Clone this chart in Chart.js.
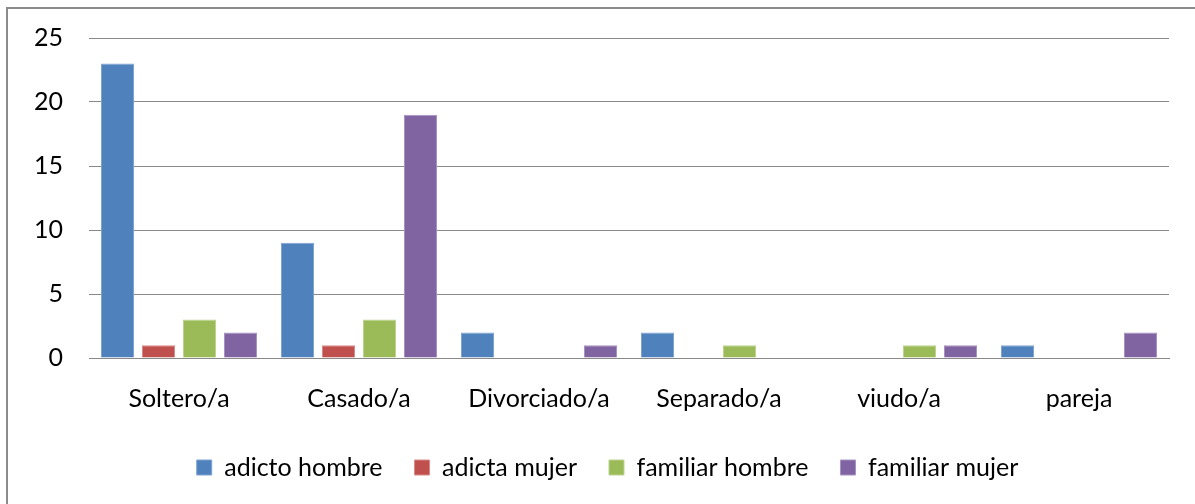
<!DOCTYPE html>
<html>
<head>
<meta charset="utf-8">
<script src="https://cdn.jsdelivr.net/npm/chart.js@4/dist/chart.umd.min.js"></script>
<style>
html,body{margin:0;padding:0;background:#fff;}
#wrap{position:relative;width:1195px;height:504px;}
</style>
</head>
<body>
<div id="wrap"><canvas id="c" width="1195" height="504"></canvas></div>
<script>
const categories = ["Soltero/a", "Casado/a", "Divorciado/a", "Separado/a", "viudo/a", "pareja"];
const adictoHombre = [23, 9, 2, 2, 0, 1];
const adictaMujer = [1, 1, 0, 0, 0, 0];
const familiarHombre = [3, 3, 0, 1, 1, 0];
const familiarMujer = [2, 19, 1, 0, 1, 2];
const yTicks = [0, 5, 10, 15, 20, 25];

const FONT = "Lato, 'Open Sans', sans-serif";
const FS = 25;

const frame = {
  id: 'frame',
  beforeDraw(chart) {
    const ctx = chart.ctx;
    ctx.save();
    ctx.fillStyle = '#fff';
    ctx.fillRect(0, 0, chart.width, chart.height);
    ctx.strokeStyle = '#8c8c8c';
    ctx.lineWidth = 2;
    ctx.beginPath();
    ctx.moveTo(7, chart.height + 5);
    ctx.lineTo(7, 8);
    ctx.lineTo(chart.width + 5, 8);
    ctx.stroke();
    ctx.restore();
  }
};

// centre the legend under the plot like the reference (shift its box right)
const legendShift = {
  id: 'legendShift',
  afterLayout(chart) {
    const l = chart.legend;
    if (l) { l.left += 23; l.right += 23; }
  }
};

function ds(label, data, color, border) {
  return {
    label, data,
    backgroundColor: color,
    borderColor: border,
    borderWidth: 1,
    borderSkipped: 'start',
    categoryPercentage: 0.911,
    barPercentage: 0.805
  };
}

new Chart(document.getElementById('c'), {
  type: 'bar',
  data: {
    labels: categories,
    datasets: [
      ds('adicto hombre', adictoHombre, '#4F81BD', '#7fa3d3'),
      ds('adicta mujer', adictaMujer, '#C0504D', '#d98a88'),
      ds('familiar hombre', familiarHombre, '#9BBB59', '#bcd48f'),
      ds('familiar mujer', familiarMujer, '#8064A2', '#a692c0')
    ]
  },
  options: {
    responsive: false,
    animation: false,
    layout: { padding: { left: 0, right: 26, top: 38, bottom: 14 } },
    plugins: {
      tooltip: { enabled: false },
      legend: {
        position: 'bottom',
        labels: {
          font: { family: FONT, size: FS },
          color: '#000',
          boxWidth: 15,
          boxHeight: 15,
          padding: 32
        }
      }
    },
    scales: {
      x: {
        afterFit(scale) { scale.height = 65; },
        grid: { display: false, drawTicks: false },
        border: { display: true, color: '#898989', width: 1 },
        ticks: { font: { family: FONT, size: FS }, color: '#000', padding: 26 }
      },
      y: {
        min: 0, max: 25,
        afterBuildTicks(scale) { scale.ticks = yTicks.map(v => ({ value: v })); },
        afterFit(scale) { scale.width = 89; scale.paddingTop = 0; },
        grid: { color: '#898989', lineWidth: 1, drawTicks: false },
        border: { display: false },
        ticks: { font: { family: FONT, size: FS }, color: '#000', padding: 26 }
      }
    }
  },
  plugins: [frame, legendShift]
});
</script>
</body>
</html>
